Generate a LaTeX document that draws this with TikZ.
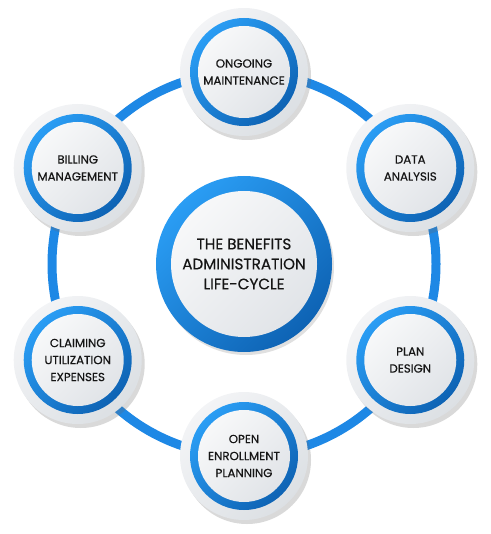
\documentclass[tikz,border=0pt]{standalone}
\usepackage{fontspec}
\setmainfont{Poppins}[FakeBold=0.4]
\newfontfamily\lblfont{Poppins}[FakeBold=0.4]
\usetikzlibrary{shadows,calc}
\definecolor{ringblue}{HTML}{1E88E5}
\definecolor{blueA}{HTML}{2A9DF4}
\definecolor{blueB}{HTML}{0E63B4}
\definecolor{grayA}{HTML}{F3F4F6}
\definecolor{grayB}{HTML}{DCE0E4}
\definecolor{innerA}{HTML}{F7F8F9}
\definecolor{innerB}{HTML}{E1E4E8}
\definecolor{txt}{HTML}{151515}
\tikzset{
  bigring/.style={draw=ringblue, line width=9pt},
  satouter/.style={circle, minimum size=128pt, inner sep=0pt, shading=axis,
     top color=grayA, bottom color=grayB, shading angle=45, draw=none,
     drop shadow={shadow xshift=3pt, shadow yshift=-4pt, opacity=0.25, fill=black!60}},
  satblue/.style={circle, minimum size=108pt, inner sep=0pt, shading=axis,
     top color=blueA, bottom color=blueB, shading angle=45, draw=none},
  satinner/.style={circle, minimum size=92pt, inner sep=0pt, shading=axis,
     top color=innerA, bottom color=innerB, shading angle=45, draw=none,
     text=txt, align=center, font=\lblfont\fontsize{11.8}{17}\selectfont},
  cenblue/.style={circle, minimum size=176pt, inner sep=0pt, shading=axis,
     top color=blueA, bottom color=blueB, shading angle=45, draw=none,
     drop shadow={shadow xshift=2pt, shadow yshift=-3pt, opacity=0.2, fill=black!60}},
  ceninner/.style={circle, minimum size=146pt, inner sep=0pt, shading=axis,
     top color=innerA, bottom color=innerB, shading angle=45, draw=none,
     text=txt, align=center, font=\lblfont\fontsize{15.2}{20}\selectfont}
}
\begin{document}
\begin{tikzpicture}[x=1pt,y=-1pt]
\useasboundingbox (0,0) rectangle (490,534);
\coordinate (C) at (244,264);
\draw[bigring] (C) circle (192);
% satellites
\foreach \nm/\ang/\lbl in {
  top/90/{ONGOING\\MAINTENANCE},
  data/30/{DATA\\ANALYSIS},
  plan/-30/{PLAN\\DESIGN},
  open/-90/{OPEN\\ENROLLMENT\\PLANNING},
  claim/210/{CLAIMING\\UTILIZATION\\EXPENSES},
  bill/150/{BILLING\\MANAGEMENT}}{
  \coordinate (\nm) at ($(C)+({192*cos(\ang)},{-192*sin(\ang)})$);
  \node[satouter] (\nm o) at (\nm) {};
  \node[satblue] (\nm b) at (\nm) {};
  \node[satinner] (\nm i) at (\nm) {\lbl};
}
% center
\node[cenblue] (cb) at (C) {};
\node[ceninner] (ci) at (C) {THE BENEFITS\\ADMINISTRATION\\LIFE-CYCLE};
\end{tikzpicture}
\end{document}
